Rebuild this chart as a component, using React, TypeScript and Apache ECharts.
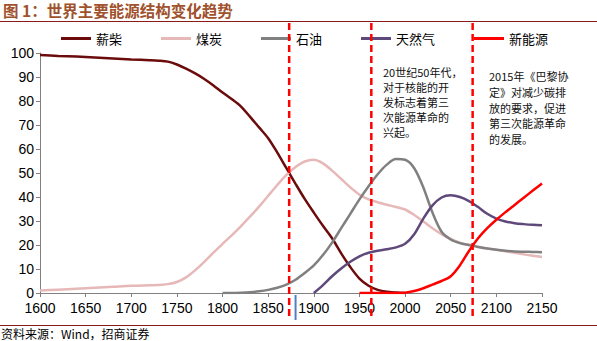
import React, { useEffect, useRef } from "react";
import * as echarts from "echarts";

const titleText = "图 1：世界主要能源结构变化趋势";
const sourceText = "资料来源：Wind，招商证券";
const seriesNames = ["薪柴", "煤炭", "石油", "天然气", "新能源"];
const seriesColors = ["#6B0B0B", "#E6B8B7", "#808080", "#5F497A", "#FF0000"];

const woodYears = [1600, 1620, 1640, 1660, 1680, 1700, 1720, 1730, 1740, 1750, 1760, 1770, 1780, 1790, 1800, 1810, 1820, 1830, 1840, 1850, 1860, 1870, 1880, 1890, 1900, 1910, 1920, 1930, 1940, 1950, 1960, 1970, 1980, 1990, 2000];
const woodValues = [99.2, 98.8, 98.5, 98.1, 97.7, 97.3, 97.0, 96.8, 96.4, 95.2, 93.5, 91.5, 89.2, 86.5, 83.5, 80.8, 77.8, 73.5, 69, 64.5, 58.5, 52, 45.5, 39.2, 33.5, 28, 22.8, 16.5, 10.8, 6, 3, 1.3, 0.5, 0.2, 0];

const coalYears = [1600, 1620, 1640, 1660, 1680, 1700, 1720, 1730, 1740, 1750, 1760, 1770, 1780, 1790, 1800, 1810, 1820, 1830, 1840, 1850, 1860, 1870, 1880, 1890, 1900, 1910, 1920, 1930, 1940, 1950, 1960, 1970, 1980, 1990, 2000, 2010, 2020, 2030, 2040, 2050, 2060, 2070, 2080, 2090, 2100, 2110, 2120, 2130, 2140, 2150];
const coalValues = [1, 1.4, 1.8, 2.2, 2.6, 3.0, 3.2, 3.3, 3.7, 4.6, 6.5, 9.5, 13, 16.8, 20.5, 24, 27.8, 31.8, 36, 40.5, 45, 49.2, 52.5, 54.8, 55.5, 54, 51, 47.5, 44, 41, 39, 37.8, 36.8, 35.8, 34.8, 32.5, 29.8, 27, 24.5, 22.5, 21, 20, 19.3, 18.6, 18, 17.4, 16.8, 16.1, 15.5, 15];

const oilYears = [1800, 1810, 1820, 1830, 1840, 1850, 1860, 1870, 1880, 1890, 1900, 1910, 1920, 1930, 1940, 1950, 1960, 1970, 1980, 1990, 2000, 2010, 2020, 2030, 2040, 2050, 2060, 2070, 2080, 2090, 2100, 2110, 2120, 2130, 2140, 2150];
const oilValues = [0, 0, 0.1, 0.3, 0.7, 1.3, 2.2, 3.5, 5.5, 8.3, 11.5, 15.8, 21, 27, 33, 39, 44.5, 49.5, 53.5, 55.8, 55.5, 52, 44, 33.5, 25.5, 22.3, 20.8, 20, 19.2, 18.5, 18, 17.6, 17.3, 17.2, 17.1, 17];

const gasYears = [1900, 1910, 1920, 1930, 1940, 1950, 1960, 1970, 1980, 1990, 2000, 2010, 2020, 2030, 2040, 2050, 2060, 2070, 2080, 2090, 2100, 2110, 2120, 2130, 2140, 2150];
const gasValues = [0, 3.3, 7, 10.2, 13, 15.3, 16.8, 17.6, 18.2, 19, 20.5, 24.5, 31, 36.5, 39.8, 40.7, 40, 38.3, 35.8, 33, 31, 29.8, 29.1, 28.7, 28.4, 28.2];

const newYears = [1950, 1960, 1970, 1980, 1990, 2000, 2010, 2020, 2030, 2040, 2050, 2060, 2070, 2080, 2090, 2100, 2110, 2120, 2130, 2140, 2150];
const newValues = [0, 0, 0, 0, 0, 0.1, 0.8, 2, 3.5, 5, 7, 11.5, 17.5, 22.8, 27, 30.5, 33.7, 36.7, 39.7, 42.7, 45.6];

const markerYears = [1873, 1963, 2074];
const blueMarkYear = 1880;

const note1Lines = ["20世纪50年代，", "对于核能的开", "发标志着第三", "次能源革命的", "兴起。"];
const note2Lines = ["2015年《巴黎协", "定》对减少碳排", "放的要求，促进", "第三次能源革命", "的发展。"];

const xTicks = { min: 1600, max: 2150, interval: 50 };
const yTicks = { min: 0, max: 100, interval: 10 };

function pairs(xs: number[], ys: number[]) {
  return xs.map((x, i) => [x, ys[i]]);
}

export default function App() {
  const ref = useRef<HTMLDivElement>(null);
  useEffect(() => {
    document.body.style.margin = "0";
    const chart = echarts.init(ref.current!, undefined, { renderer: "svg" });
    const data = [
      pairs(woodYears, woodValues),
      pairs(coalYears, coalValues),
      pairs(oilYears, oilValues),
      pairs(gasYears, gasValues),
      pairs(newYears, newValues),
    ];
    const cjk = "'Noto Sans CJK SC', sans-serif";
    const num = "'Liberation Sans', Arial, sans-serif";
    chart.setOption({
      animation: false,
      grid: { left: 40, right: 55, top: 53, bottom: 48, containLabel: false },
      legend: {
        left: 56,
        top: 27,
        icon: "rect",
        itemWidth: 30,
        itemHeight: 3,
        itemGap: 39,
        textStyle: { fontFamily: cjk, fontSize: 13, color: "#000" },
        data: seriesNames,
      },
      xAxis: {
        type: "value",
        min: xTicks.min,
        max: xTicks.max,
        interval: xTicks.interval,
        axisLine: { lineStyle: { color: "#808080", width: 1 } },
        axisTick: { show: true, length: 4, lineStyle: { color: "#808080" } },
        axisLabel: {
          fontFamily: num,
          fontSize: 14,
          color: "#000",
          margin: 8,
          formatter: (v: number) => String(v),
        },
        splitLine: { show: false },
      },
      yAxis: {
        type: "value",
        min: yTicks.min,
        max: yTicks.max,
        interval: yTicks.interval,
        axisLine: { show: true, lineStyle: { color: "#808080", width: 1 } },
        axisTick: { show: true, length: 4, lineStyle: { color: "#808080" } },
        axisLabel: { fontFamily: num, fontSize: 14, color: "#000", margin: 6 },
        splitLine: { show: false },
      },
      series: seriesNames.map((name, i) => ({
        name,
        type: "line",
        smooth: 0.3,
        symbol: "none",
        data: data[i],
        lineStyle: { color: seriesColors[i], width: 2.5 },
        itemStyle: { color: seriesColors[i] },
        z: 2 + i,
      })),
    });

    const graphics: any[] = [
      {
        type: "text",
        left: 3,
        top: 2,
        style: { text: titleText, font: `bold 15.5px ${cjk}`, fill: "#A0522D" },
      },
      {
        type: "line",
        shape: { x1: 0, y1: 21.5, x2: 597, y2: 21.5 },
        style: { stroke: "#8B1A1A", lineWidth: 1 },
      },
      {
        type: "line",
        shape: { x1: 0, y1: 325.5, x2: 597, y2: 325.5 },
        style: { stroke: "#8B1A1A", lineWidth: 1 },
      },
      {
        type: "text",
        left: 1,
        top: 327,
        style: { text: sourceText, font: `12px ${cjk}`, fill: "#000" },
      },
    ];
    note1Lines.forEach((t, i) => {
      graphics.push({
        type: "text",
        x: 383,
        y: 72 + i * 15,
        style: { text: t, font: `11px ${cjk}`, fill: "#111", verticalAlign: "middle" },
        z: 20,
      });
    });
    note2Lines.forEach((t, i) => {
      graphics.push({
        type: "text",
        x: 489,
        y: 76 + i * 15.8,
        style: { text: t, font: `11px ${cjk}`, fill: "#111", verticalAlign: "middle" },
        z: 20,
      });
    });
    markerYears.forEach((yr) => {
      const px = chart.convertToPixel({ xAxisIndex: 0 }, yr) as number;
      graphics.push({
        type: "line",
        shape: { x1: px, y1: 23, x2: px, y2: 320 },
        style: { stroke: "#FF0000", lineWidth: 2.5, lineDash: [7, 4] },
        z: 30,
      });
    });
    const bx = chart.convertToPixel({ xAxisIndex: 0 }, blueMarkYear) as number;
    const by = chart.convertToPixel({ yAxisIndex: 0 }, 0) as number;
    graphics.push({
      type: "line",
      shape: { x1: bx, y1: by + 2, x2: bx, y2: 320 },
      style: { stroke: "#4F81BD", lineWidth: 2 },
      z: 30,
    });
    chart.setOption({ graphic: graphics });
    return () => chart.dispose();
  }, []);
  return <div ref={ref} style={{ width: 597, height: 341 }} />;
}
